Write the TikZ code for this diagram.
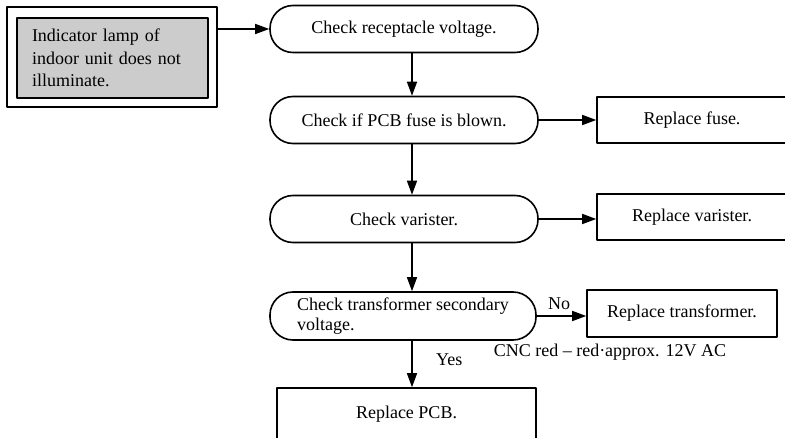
\documentclass[tikz,border=0pt]{standalone}
\usepackage{fontspec}
\setmainfont{Liberation Serif}
\usetikzlibrary{arrows.meta}
\begin{document}
\begin{tikzpicture}[x=1pt, y=-1pt, line join=round, >={Triangle[length=14pt,width=10pt]}, font=\fontsize{18}{21}\selectfont]
	\tikzset{check/.style={draw, line width=1.6pt, rounded corners=23pt, minimum width=268pt, minimum height=47pt, inner sep=0pt}}
	\tikzset{repl/.style={draw, line width=1.6pt, minimum width=190pt, minimum height=46pt, inner sep=0pt}}
	\tikzset{flow/.style={->, line width=1.6pt}}
	\useasboundingbox (0,0) rectangle (785,438);
	\clip (0,0) rectangle (785,438);
	\coordinate (spine) at (412,0);
	% start box
	\node[draw, line width=1.6pt, minimum width=210pt, minimum height=100pt] (lampout) at (112,57) {};
	\node[draw, line width=2pt, fill=black!20, minimum width=191pt, minimum height=80pt, text width=161pt, inner xsep=15pt, align=left, font=\fontsize{18}{22.5}\selectfont] (lamp) at (112.5,58) {Indicator lamp of\\ indoor unit does not\\ illuminate.};
	% checks
	\node[check] (recep) at (404,29) {Check receptacle voltage.};
	\node[check] (fuse) at (404,120) {Check if PCB fuse is blown.};
	\node[check] (var) at (404,219) {Check varister.};
	\node[check, minimum width=266pt, minimum height=48pt, align=left, font=\fontsize{18}{20}\selectfont] (trans) at (403,316) {Check transformer secondary\\ voltage.};
	% repairs
	\node[repl] (rfuse) at (692,120) {Replace fuse.};
	\node[repl] (rvar) at (692,217) {Replace varister.};
	\node[repl, minimum height=47pt] (rtrans) at (682,313.5) {Replace transformer.};
	\node[repl, minimum width=259pt, minimum height=52pt] (pcb) at (406.5,414) {Replace PCB.};
	\node (cnote) at (610,352) {CNC red -- red·approx. 12V AC};
	% connectors
	\draw[flow] (lampout.east |- recep.west) -- (recep.west);
	\draw[flow] (recep.south -| spine) -- (fuse.north -| spine);
	\draw[flow] (fuse) -- (rfuse);
	\draw[flow] (fuse.south -| spine) -- (var.north -| spine);
	\draw[flow] (var.east) -- (var.east -| rvar.west);
	\draw[flow] (var.south -| spine) -- (trans.north -| spine);
	\draw[flow] (trans.east) -- (trans.east -| rtrans.west) node[pos=0.45, above=2pt] {No};
	\draw[flow] (trans.south -| spine) -- (pcb.north -| spine) node[pos=0.4, right=20pt] {Yes};
\end{tikzpicture}
\end{document}
